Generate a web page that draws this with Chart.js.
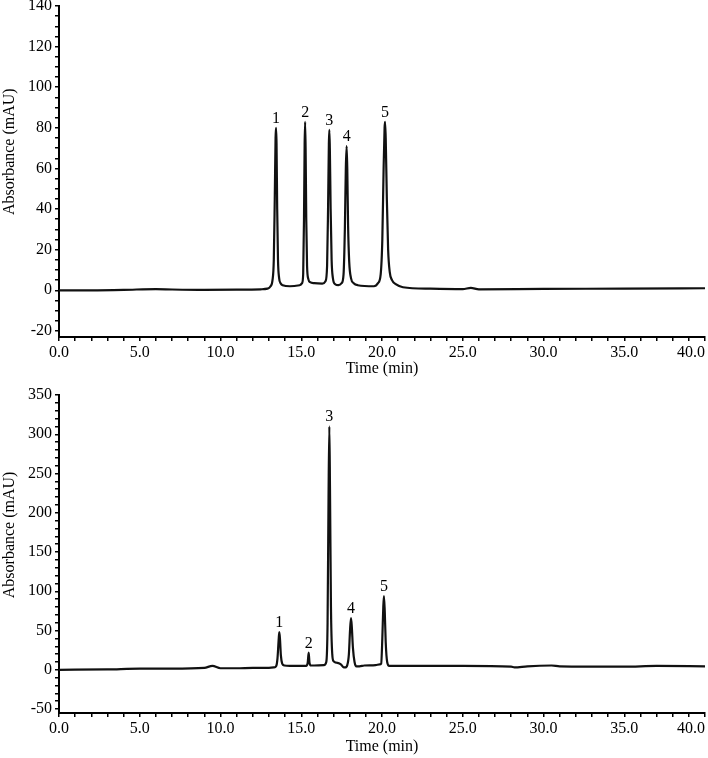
<!DOCTYPE html>
<html>
<head>
<meta charset="utf-8">
<script src="https://cdn.jsdelivr.net/npm/chart.js@4/dist/chart.umd.min.js"></script>
<style>
  html, body { margin: 0; padding: 0; background: #fff; }
  canvas { display: block; }
</style>
</head>
<body>
<canvas id="chartTop" width="708" height="378"></canvas>
<canvas id="chartBottom" width="708" height="380"></canvas>
<script>
// upper chromatogram (standards)
const timeTop = [0, 2, 4, 6, 7, 9, 11, 12.5,
  12.9, 13.1, 13.22, 13.3, 13.36, 13.41, 13.44, 13.47, 13.51, 13.56, 13.63, 13.72, 13.85, 14.3,
  14.9, 15.05, 15.12, 15.17, 15.21, 15.24, 15.27, 15.31, 15.36, 15.44, 15.55, 15.8,
  16.3, 16.5, 16.6, 16.66, 16.71, 16.74, 16.77, 16.82, 16.88, 16.96, 17.1, 17.3,
  17.5, 17.62, 17.7, 17.76, 17.81, 17.85, 17.9, 17.97, 18.08, 18.25, 18.5,
  19.5, 19.75, 19.92, 20.02, 20.1, 20.16, 20.19, 20.23, 20.3, 20.38, 20.48, 20.62, 20.85, 21.3,
  23, 25, 25.5, 26, 30, 35, 40];
const absTop = [0, 0, 0.2, 0.6, 0.4, 0.2, 0.3, 0.5,
  0.8, 2, 5, 15, 45, 75, 80, 72, 40, 15, 6, 3.5, 2.5, 2,
  2.5, 3.5, 8, 35, 72, 83, 70, 35, 12, 5.5, 4, 3.5,
  3.3, 4.5, 12, 40, 72, 79, 70, 40, 15, 6, 3, 2.5,
  3.5, 8, 30, 60, 71, 60, 32, 14, 6, 3.5, 2.5,
  2, 3.5, 8, 25, 60, 80, 83, 75, 45, 20, 9, 5, 3, 1.5,
  0.8, 0.6, 1.2, 0.5, 0.7, 0.8, 1.0];
const peakTimeTop = [13.44, 15.24, 16.74, 17.81, 20.19];
const peakAbsTop = [80, 83, 79, 71, 83];

// lower chromatogram (sample)
const timeBottom = [0, 3, 5, 7, 9, 9.5, 10, 11, 12, 13.0,
  13.3, 13.45, 13.53, 13.6, 13.64, 13.68, 13.74, 13.82, 13.95, 14.3,
  15.3, 15.4, 15.46, 15.51, 15.6,
  16.4, 16.55, 16.63, 16.69, 16.74, 16.78, 16.84, 16.92, 17.0, 17.2, 17.45, 17.6, 17.72,
  17.85, 17.95, 18.02, 18.08, 18.13, 18.2, 18.3, 18.42, 18.6, 18.9,
  19.6, 19.85, 19.95, 20.02, 20.08, 20.12, 20.17, 20.23, 20.32, 20.45,
  22, 25, 28, 28.2, 29, 30.5, 31, 35, 37, 40];
const absBottom = [0, 0.5, 1.5, 1.5, 2.5, 5, 2, 2, 2.5, 2.5,
  3, 5, 15, 38, 48, 40, 18, 8, 5.5, 5,
  5, 9, 22, 9, 5.5,
  6, 10, 60, 220, 310, 230, 80, 20, 11, 9, 7, 3.5, 3,
  6, 20, 50, 66, 55, 28, 10, 4.5, 4.5, 5.5,
  6, 7, 8, 40, 80, 94, 75, 35, 10, 5,
  5, 5, 4, 3, 4.5, 5.5, 4.5, 4, 5, 4.5];
const peakTimeBottom = [13.64, 15.46, 16.74, 18.08, 20.12];
const peakAbsBottom = [48, 22, 310, 66, 94];

const peakNames = ["1", "2", "3", "4", "5"];

const FONT = '"Liberation Serif", "Times New Roman", serif';
Chart.defaults.font.family = FONT;
Chart.defaults.font.size = 16;
Chart.defaults.color = '#000';

// peak numbers above each apex, and the rotated y title
const extras = {
  id: 'extras',
  afterDatasetsDraw(chart, args, opts) {
    const { ctx, chartArea, scales: { x, y } } = chart;
    ctx.save();
    ctx.font = '16px ' + FONT;
    ctx.fillStyle = '#000';
    ctx.textAlign = 'center';
    ctx.textBaseline = 'alphabetic';
    opts.times.forEach((t, i) => {
      ctx.fillText(opts.names[i], x.getPixelForValue(t), y.getPixelForValue(opts.heights[i]) - 5);
    });
    ctx.textBaseline = 'middle';
    ctx.translate(10, chartArea.top + 0.44 * (chartArea.bottom - chartArea.top));
    ctx.rotate(-Math.PI / 2);
    ctx.fillText('Absorbance (mAU)', 0, 0);
    ctx.restore();
  }
};

function makeChart(id, times, values, peaks, yMin, yMax, yStep, yLabelStep, padTop, xHeight, titlePad) {
  const points = times.map((t, i) => ({ x: t, y: values[i] }));
  return new Chart(id, {
    type: 'line',
    data: {
      datasets: [{
        data: points,
        borderColor: '#111',
        borderWidth: 2.2,
        borderJoinStyle: 'round',
        cubicInterpolationMode: 'monotone',
        pointRadius: 0,
        fill: false
      }]
    },
    options: {
      responsive: false,
      animation: false,
      layout: { padding: { top: padTop, right: 3, left: 0, bottom: 0 } },
      plugins: {
        legend: { display: false },
        tooltip: { enabled: false },
        extras: { times: peaks[0], heights: peaks[1], names: peakNames }
      },
      scales: {
        x: {
          type: 'linear',
          min: 0,
          max: 40,
          border: { color: '#000', width: 2 },
          grid: { drawOnChartArea: false, color: '#000', lineWidth: 1.5, tickLength: 4 },
          ticks: {
            stepSize: 1,
            autoSkip: false,
            maxRotation: 0,
            padding: 2,
            // last label nudged left so it stays inside the page, as in the source
            callback: v => (v % 5 === 0 ? (v === 40 ? '40.0       ' : v.toFixed(1)) : '')
          },
          title: { display: true, text: 'Time (min)', padding: { top: 0, bottom: titlePad } },
          afterFit(scale) {
            scale.height = xHeight;
            scale.paddingLeft = 0;
            scale.paddingRight = 0;
          }
        },
        y: {
          min: yMin,
          max: yMax,
          border: { color: '#000', width: 2 },
          grid: { drawOnChartArea: false, color: '#000', lineWidth: 1.5, tickLength: 4 },
          ticks: {
            stepSize: yStep,
            includeBounds: false,
            autoSkip: false,
            padding: 3,
            callback: v => (v % yLabelStep === 0 ? String(v) : '')
          },
          title: { display: false },
          afterFit(scale) {
            scale.width = 59;
            scale.paddingTop = 0;
            scale.paddingBottom = 0;
          }
        }
      }
    },
    plugins: [extras]
  });
}

makeChart('chartTop', timeTop, absTop, [peakTimeTop, peakAbsTop], -23, 140, 5, 20, 6, 41, 0);
makeChart('chartBottom', timeBottom, absBottom, [peakTimeBottom, peakAbsBottom], -55, 350, 10, 50, 17, 45, 2);
</script>
</body>
</html>
